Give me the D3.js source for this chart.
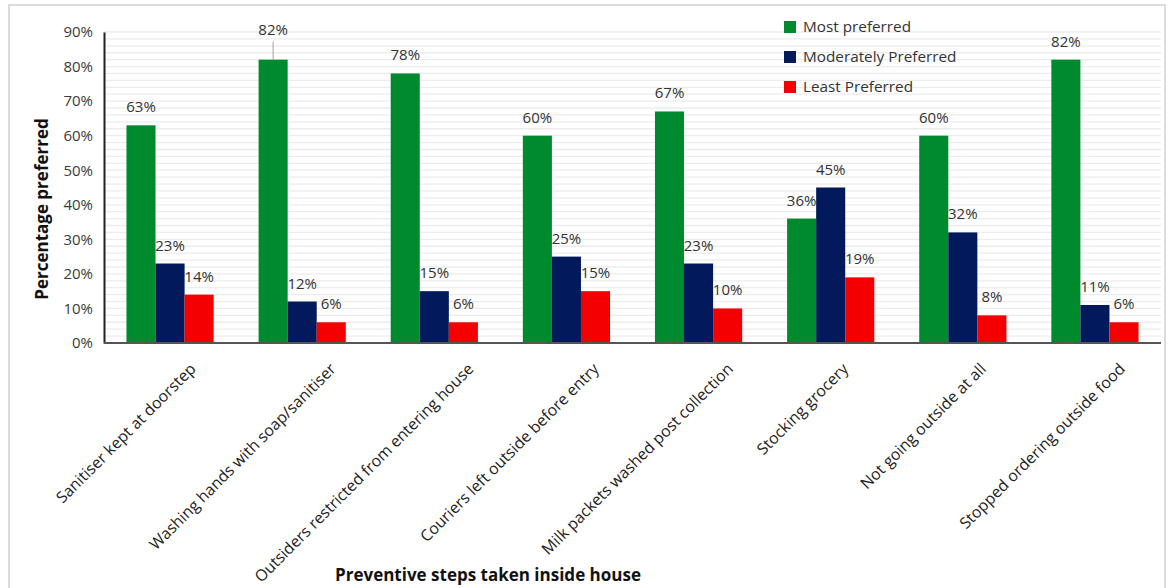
<!DOCTYPE html>
<html>
<head>
<meta charset="utf-8">
<script src="https://cdn.jsdelivr.net/npm/d3@7"></script>
<style>
  html, body { margin: 0; padding: 0; background: #fff; }
  svg { display: block; }
</style>
</head>
<body>
<svg id="chart" width="1172" height="588"></svg>
<script>
// Preventive steps taken inside the house and how strongly each is preferred
const categories = [
  "Sanitiser kept at doorstep",
  "Washing hands with soap/sanitiser",
  "Outsiders restricted from entering house",
  "Couriers left outside before entry",
  "Milk packets washed post collection",
  "Stocking grocery",
  "Not going outside at all",
  "Stopped ordering outside food"
];
const seriesNames = ["Most preferred", "Moderately Preferred", "Least Preferred"];
const mostPreferred       = [63, 82, 78, 60, 67, 36, 60, 82];
const moderatelyPreferred = [23, 12, 15, 25, 23, 45, 32, 11];
const leastPreferred      = [14, 6, 6, 15, 10, 19, 8, 6];
const yTicks = [0, 10, 20, 30, 40, 50, 60, 70, 80, 90];

const seriesValues = [mostPreferred, moderatelyPreferred, leastPreferred];
const colors = ["#008a2e", "#021a5c", "#f50000"];
const font = "'Open Sans', 'Noto Sans', sans-serif";

const svg = d3.select("#chart");
const W = 1172, H = 588;
const m = { left: 104, right: 11, top: 32, bottom: 245 };

// outer frame
svg.append("rect")
  .attr("x", 9).attr("y", 5).attr("width", W - 16).attr("height", H + 10)
  .attr("fill", "#fff").attr("stroke", "#dcdcdc").attr("stroke-width", 2);

const x0 = d3.scaleBand().domain(categories)
  .range([m.left, W - m.right]).paddingInner(0.34).paddingOuter(0.17);
const x1 = d3.scaleBand().domain(seriesNames).range([0, x0.bandwidth()]);
const y = d3.scaleLinear().domain([0, 90]).range([H - m.bottom, m.top]);

// faint gridlines every 2%
const grid = d3.range(2, 91, 2);
svg.append("g").selectAll("line").data(grid).join("line")
  .attr("x1", m.left).attr("x2", W - m.right)
  .attr("y1", d => y(d)).attr("y2", d => y(d))
  .attr("stroke", "#ececec").attr("stroke-width", 1.3);

// y axis
const yAxis = svg.append("g")
  .attr("transform", `translate(${m.left},0)`)
  .call(d3.axisLeft(y).tickValues(yTicks).tickSize(0).tickPadding(11).tickFormat(d => d + "%"));
yAxis.select(".domain").attr("stroke", "#222").attr("stroke-width", 2);
yAxis.selectAll("text").attr("font-family", font).attr("font-size", 15).attr("fill", "#3a3a3a");

// bars
const groups = svg.append("g").selectAll("g").data(categories).join("g")
  .attr("transform", c => `translate(${x0(c)},0)`);
groups.selectAll("rect")
  .data((c, i) => seriesNames.map((s, k) => ({ s, k, v: seriesValues[k][i] })))
  .join("rect")
  .attr("x", d => x1(d.s)).attr("width", x1.bandwidth())
  .attr("y", d => y(d.v)).attr("height", d => y(0) - y(d.v))
  .attr("fill", d => colors[d.k]);

// value labels; the washing-hands "most preferred" label sits higher with a leader line
groups.each(function (c, i) {
  const g = d3.select(this);
  seriesNames.forEach((s, k) => {
    const v = seriesValues[k][i];
    const cx = x1(s) + x1.bandwidth() / 2;
    const lift = (i === 1 && k === 0) ? 12 : 0;
    if (lift) {
      g.append("line").attr("x1", cx).attr("x2", cx)
        .attr("y1", y(v) - lift - 6).attr("y2", y(v))
        .attr("stroke", "#a0a0a0").attr("stroke-width", 1);
    }
    g.append("text")
      .attr("x", cx).attr("y", y(v) - 13 - lift)
      .attr("text-anchor", "middle")
      .attr("font-family", font).attr("font-size", 15).attr("fill", "#333")
      .text(v + "%");
  });
});

// x axis
const xAxis = svg.append("g")
  .attr("transform", `translate(0,${y(0)})`)
  .call(d3.axisBottom(x0).tickSize(0).tickPadding(0));
xAxis.select(".domain").attr("stroke", "#555").attr("stroke-width", 2)
  .attr("d", `M${m.left},0H${W - m.right}`);
xAxis.selectAll("text")
  .attr("font-family", font).attr("font-size", 15.8).attr("fill", "#222")
  .attr("text-anchor", "end")
  .attr("dy", 0)
  .attr("transform", function () {
    // longer labels are pushed further right of the category centre
    const len = this.getComputedTextLength();
    return `translate(${4 + 0.12 * len},27) rotate(-45)`;
  });

// axis titles
svg.append("text")
  .attr("transform", `translate(48,209) rotate(-90)`)
  .attr("text-anchor", "middle")
  .attr("font-family", font).attr("font-size", 17).attr("font-weight", "bold").attr("fill", "#111")
  .text("Percentage preferred");
svg.append("text")
  .attr("x", 488).attr("y", 581)
  .attr("text-anchor", "middle")
  .attr("font-family", font).attr("font-size", 17).attr("font-weight", "bold").attr("fill", "#111")
  .text("Preventive steps taken inside house");

// legend
const legend = svg.append("g").attr("transform", "translate(784,21)");
const li = legend.selectAll("g").data(seriesNames).join("g")
  .attr("transform", (d, i) => `translate(0,${i * 30})`);
li.append("rect").attr("width", 12).attr("height", 12).attr("fill", (d, i) => colors[i]);
li.append("text").attr("x", 19).attr("y", 11)
  .attr("font-family", font).attr("font-size", 15.3).attr("fill", "#333")
  .text(d => d);
</script>
</body>
</html>
